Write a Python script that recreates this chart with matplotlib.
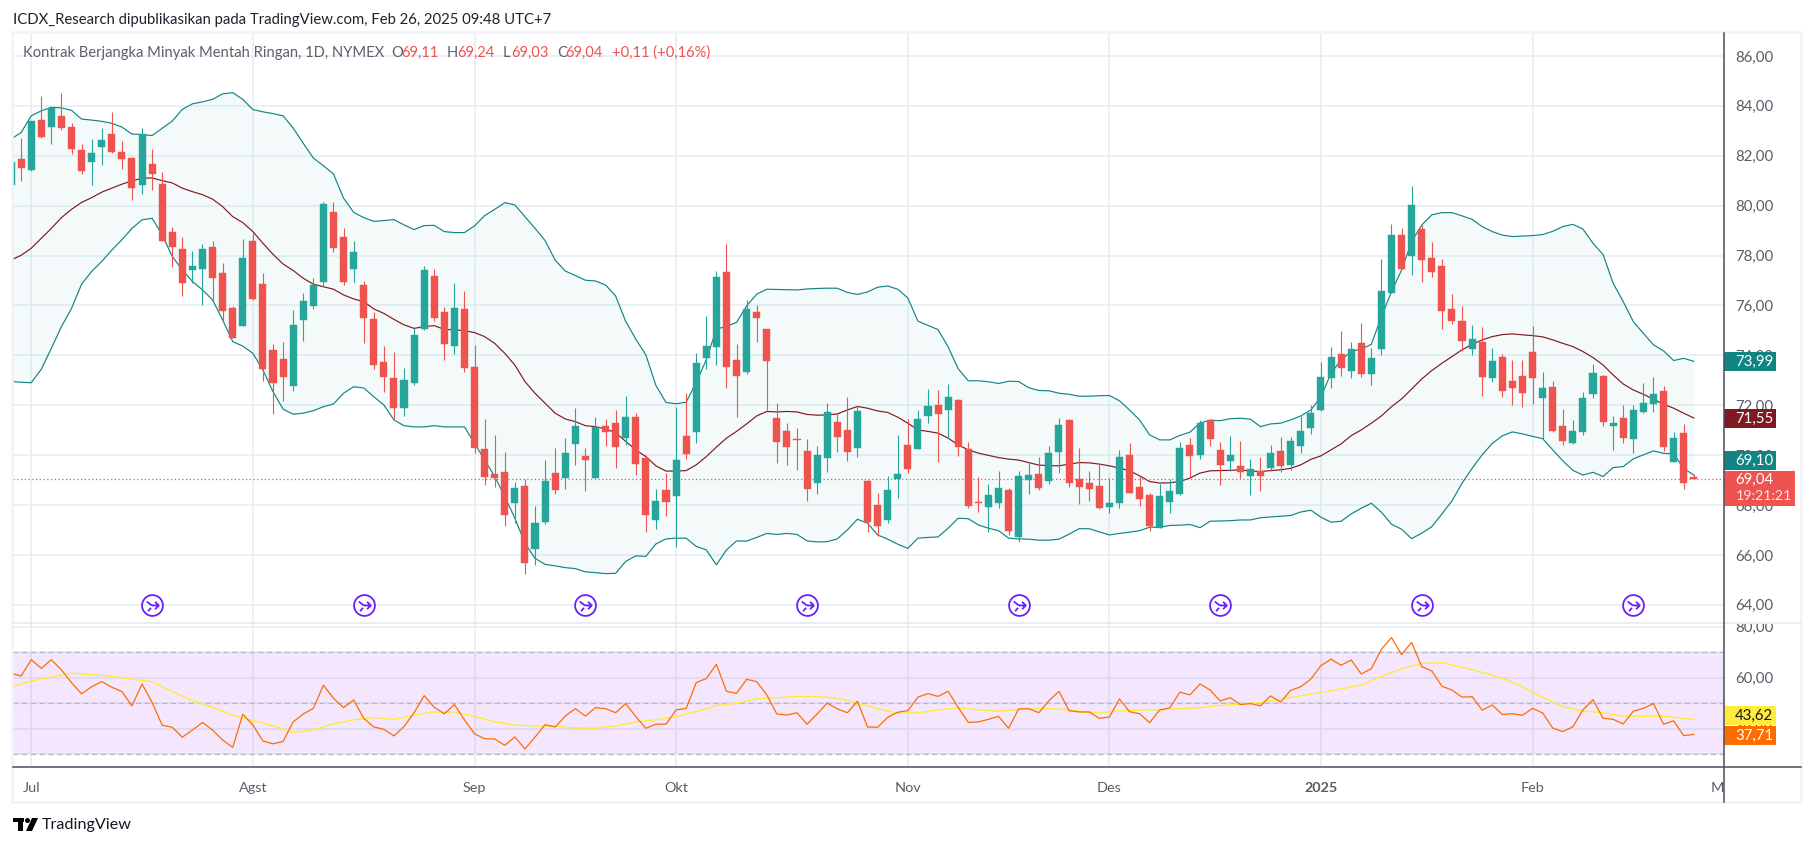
"""Crude oil daily candles with Bollinger bands and RSI, TradingView look."""

import numpy as np
import matplotlib
matplotlib.use("Agg")
import matplotlib.pyplot as plt
from matplotlib.path import Path
from matplotlib.patches import Rectangle, Polygon, Circle
from matplotlib.transforms import Bbox

plt.rcParams['font.family'] = ['Lato', 'DejaVu Sans']

first_index = -2

opens = [80.83, 81.87, 81.43, 83.43, 83.17, 83.60, 83.15, 82.23, 81.75, 82.35, 82.87, 82.15,
         81.91, 80.83, 81.67, 80.86, 78.95, 78.26, 77.42, 77.46, 78.34, 77.30, 75.90, 75.18,
         78.58, 76.86, 74.22, 73.86, 72.77, 75.42, 75.98, 76.94, 79.75, 78.75, 77.46, 76.82,
         75.46, 73.74, 73.09, 71.89, 72.89, 75.06, 77.18, 75.74, 74.38, 75.86, 73.54, 70.25,
         69.25, 69.33, 68.08, 68.77, 66.24, 67.32, 69.29, 69.09, 70.45, 69.97, 69.09, 71.17,
         71.29, 70.69, 71.53, 69.89, 67.41, 68.61, 68.37, 70.77, 70.93, 73.90, 74.34, 77.35,
         73.82, 73.34, 75.74, 75.06, 71.49, 70.97, 70.63, 70.17, 68.89, 69.89, 71.33, 71.01,
         70.29, 68.97, 68.01, 67.41, 69.05, 70.41, 70.25, 71.57, 72.01, 71.81, 72.22, 70.25,
         68.13, 67.93, 68.09, 68.61, 66.72, 69.01, 69.25, 68.97, 70.13, 71.41, 69.05, 68.89,
         68.77, 67.93, 68.09, 70.01, 68.73, 68.41, 67.09, 68.13, 68.45, 70.41, 70.01, 71.41,
         70.21, 69.77, 69.57, 69.17, 69.36, 69.48, 70.17, 69.61, 70.37, 71.09, 71.81, 73.09,
         74.05, 73.37, 74.49, 73.25, 74.25, 76.50, 78.82, 77.98, 79.06, 77.90, 77.58, 75.86,
         75.38, 74.25, 74.54, 73.09, 73.93, 72.97, 73.17, 74.13, 72.29, 72.73, 71.17, 70.49,
         70.93, 72.45, 73.17, 71.17, 71.49, 70.65, 71.73, 72.05, 72.57, 69.73, 70.89, 69.11]
highs = [81.74, 82.70, 83.40, 84.40, 83.93, 84.52, 83.30, 82.47, 82.67, 83.10, 83.76, 82.59,
         81.95, 83.10, 82.27, 81.34, 79.13, 78.75, 78.18, 78.46, 78.59, 77.70, 75.98, 78.66,
         78.90, 77.29, 74.46, 74.54, 75.82, 76.50, 77.09, 80.15, 80.15, 79.11, 78.59, 76.98,
         75.74, 74.38, 74.14, 73.50, 75.10, 77.58, 77.46, 75.94, 76.90, 76.58, 74.42, 71.45,
         70.81, 70.13, 68.93, 69.05, 67.96, 69.80, 70.29, 70.69, 71.89, 70.29, 71.53, 71.45,
         71.81, 72.38, 71.69, 70.01, 68.65, 69.29, 71.93, 72.49, 74.10, 75.58, 77.39, 78.47,
         74.46, 76.22, 76.02, 75.06, 72.09, 71.29, 71.09, 70.65, 70.37, 72.09, 71.65, 72.34,
         71.95, 69.00, 68.49, 69.17, 70.81, 71.45, 71.81, 72.66, 72.62, 72.86, 72.26, 70.53,
         69.13, 68.85, 69.37, 68.69, 69.37, 69.73, 69.93, 70.37, 71.49, 71.45, 70.29, 69.37,
         69.65, 69.09, 70.21, 70.49, 69.17, 68.49, 68.85, 69.05, 70.53, 70.69, 71.41, 71.41,
         70.53, 70.77, 70.57, 69.85, 69.93, 70.41, 70.73, 70.73, 71.57, 72.01, 73.73, 74.33,
         74.98, 74.54, 75.30, 74.29, 77.86, 79.26, 79.10, 80.79, 79.22, 78.54, 77.86, 76.46,
         75.98, 75.22, 75.14, 74.29, 74.05, 73.81, 73.81, 75.17, 73.33, 72.97, 71.85, 71.41,
         72.53, 73.65, 73.21, 71.57, 72.01, 72.01, 72.89, 73.13, 72.77, 70.93, 71.25, 69.24]
lows = [80.83, 80.99, 81.40, 82.73, 82.47, 83.03, 82.07, 81.27, 80.83, 81.63, 82.11, 81.48,
        80.23, 80.47, 80.63, 78.60, 77.54, 76.38, 76.89, 76.00, 76.15, 75.35, 74.70, 75.18,
        76.20, 72.97, 71.65, 72.17, 72.57, 74.58, 75.86, 76.75, 78.14, 76.80, 76.94, 74.50,
        73.45, 72.53, 71.45, 71.57, 72.81, 75.02, 75.38, 73.82, 74.06, 73.33, 70.09, 68.81,
        68.73, 67.16, 67.28, 65.24, 65.60, 67.24, 68.44, 68.65, 69.61, 68.57, 69.09, 70.37,
        69.49, 70.41, 69.21, 66.93, 67.05, 67.57, 66.32, 69.85, 70.49, 73.46, 73.62, 72.70,
        71.53, 73.26, 74.54, 71.81, 69.69, 69.61, 69.41, 68.17, 68.45, 69.33, 70.13, 69.77,
        69.93, 66.93, 66.77, 67.29, 68.29, 69.29, 70.25, 71.29, 69.73, 70.69, 69.97, 67.89,
        67.73, 66.93, 67.89, 66.80, 66.52, 68.45, 68.61, 68.85, 69.29, 68.73, 68.05, 68.17,
        67.85, 67.69, 67.89, 68.49, 67.97, 66.97, 67.09, 67.69, 68.41, 69.13, 69.85, 70.37,
        68.80, 69.36, 69.08, 68.40, 68.56, 69.36, 69.32, 69.40, 70.09, 70.85, 71.77, 72.69,
        73.17, 73.09, 73.13, 72.81, 74.01, 76.50, 77.46, 77.22, 76.94, 77.14, 75.06, 75.26,
        74.17, 74.01, 72.37, 72.93, 72.33, 72.01, 71.93, 72.05, 70.65, 70.93, 70.41, 70.45,
        70.81, 72.29, 71.17, 70.21, 70.49, 70.09, 71.69, 71.73, 70.17, 69.73, 68.64, 69.03]
closes = [81.74, 81.52, 83.39, 82.75, 83.93, 83.11, 82.27, 81.39, 82.11, 82.63, 82.15, 81.87,
          80.71, 82.86, 81.27, 78.60, 78.34, 76.90, 77.58, 78.26, 77.10, 75.78, 74.70, 77.90,
          76.26, 73.45, 72.89, 73.13, 75.22, 76.18, 76.82, 80.07, 78.30, 76.94, 78.14, 75.50,
          73.62, 73.13, 71.89, 73.01, 74.82, 77.42, 75.50, 74.46, 75.90, 73.50, 70.29, 69.13,
          69.09, 67.60, 68.69, 65.68, 67.28, 68.97, 68.60, 70.09, 71.17, 69.81, 71.13, 70.93,
          70.33, 71.53, 69.65, 67.61, 68.17, 68.13, 69.81, 70.05, 73.70, 74.38, 77.15, 73.54,
          73.18, 75.86, 75.50, 73.78, 70.53, 70.33, 70.60, 68.65, 70.01, 71.73, 70.73, 70.13,
          71.77, 67.33, 67.17, 68.61, 69.25, 69.45, 71.45, 71.97, 71.65, 72.34, 70.33, 67.97,
          68.09, 68.41, 68.69, 66.97, 69.17, 69.21, 68.69, 70.09, 71.21, 68.89, 68.73, 68.65,
          67.89, 68.09, 69.93, 68.49, 68.25, 67.17, 68.37, 68.57, 70.29, 69.97, 71.29, 70.65,
          69.61, 70.01, 69.32, 69.45, 69.17, 70.09, 69.57, 70.57, 70.97, 71.69, 73.13, 73.93,
          73.49, 74.25, 73.25, 73.89, 76.58, 78.82, 77.46, 80.03, 77.82, 77.34, 75.78, 75.38,
          74.58, 74.66, 73.13, 73.77, 72.57, 72.69, 72.49, 73.09, 72.69, 70.97, 70.57, 70.97,
          72.29, 73.29, 71.33, 71.29, 70.69, 71.81, 72.09, 72.45, 70.33, 70.69, 68.88, 69.04]

bb_upper = [82.67, 82.93, 83.60, 83.80, 83.94, 83.92, 83.82, 83.47, 83.43, 83.38, 83.30, 83.15,
            82.87, 82.85, 82.81, 83.10, 83.39, 83.86, 84.08, 84.16, 84.26, 84.48, 84.53, 84.26,
            83.85, 83.76, 83.69, 83.60, 83.11, 82.50, 81.91, 81.60, 81.27, 80.30, 79.73, 79.52,
            79.37, 79.40, 79.44, 79.23, 79.04, 79.20, 79.21, 78.96, 78.92, 78.92, 79.19, 79.60,
            79.85, 80.12, 80.03, 79.56, 79.09, 78.60, 77.82, 77.38, 77.20, 77.01, 76.98, 76.82,
            76.38, 75.36, 74.65, 74.02, 72.79, 72.11, 72.06, 72.12, 72.92, 73.82, 75.05, 75.16,
            75.32, 75.98, 76.45, 76.65, 76.64, 76.63, 76.62, 76.66, 76.68, 76.69, 76.69, 76.52,
            76.44, 76.54, 76.73, 76.78, 76.65, 76.30, 75.37, 75.20, 75.03, 74.34, 73.46, 72.98,
            72.98, 72.94, 72.87, 72.96, 72.95, 72.70, 72.59, 72.58, 72.48, 72.44, 72.36, 72.36,
            72.38, 72.39, 72.18, 71.81, 71.41, 70.81, 70.61, 70.61, 70.79, 70.92, 71.29, 71.40,
            71.38, 71.46, 71.48, 71.44, 71.14, 71.25, 71.28, 71.41, 71.57, 71.81, 72.34, 73.28,
            73.81, 74.15, 74.25, 74.44, 75.55, 76.55, 77.42, 78.56, 79.22, 79.63, 79.72, 79.72,
            79.59, 79.45, 79.16, 78.96, 78.82, 78.76, 78.78, 78.80, 78.84, 78.97, 79.16, 79.25,
            79.06, 78.49, 78.04, 76.89, 76.15, 75.35, 74.88, 74.42, 74.18, 73.79, 73.88, 73.76]
bb_basis = [77.82, 78.01, 78.29, 78.69, 79.09, 79.52, 79.85, 80.13, 80.32, 80.54, 80.70, 80.86,
            80.99, 81.10, 81.11, 81.00, 80.91, 80.70, 80.56, 80.44, 80.26, 79.96, 79.56, 79.32,
            78.96, 78.49, 78.05, 77.66, 77.40, 77.09, 76.85, 76.75, 76.65, 76.42, 76.26, 76.15,
            75.86, 75.68, 75.44, 75.22, 75.08, 75.15, 75.19, 75.04, 75.02, 74.99, 74.91, 74.75,
            74.48, 74.08, 73.61, 72.95, 72.48, 72.08, 71.68, 71.45, 71.34, 71.18, 71.14, 71.05,
            70.90, 70.55, 70.21, 69.94, 69.57, 69.36, 69.36, 69.38, 69.61, 69.94, 70.32, 70.68,
            70.95, 71.25, 71.57, 71.75, 71.73, 71.75, 71.73, 71.63, 71.60, 71.61, 71.65, 71.81,
            71.95, 71.88, 71.77, 71.71, 71.52, 71.28, 71.01, 70.95, 70.88, 70.68, 70.41, 70.21,
            70.08, 69.99, 69.90, 69.84, 69.80, 69.70, 69.60, 69.58, 69.57, 69.64, 69.70, 69.69,
            69.64, 69.57, 69.48, 69.37, 69.17, 68.94, 68.88, 68.89, 68.94, 69.08, 69.28, 69.37,
            69.38, 69.39, 69.41, 69.36, 69.34, 69.38, 69.41, 69.47, 69.61, 69.83, 69.97, 70.21,
            70.45, 70.78, 71.01, 71.28, 71.57, 71.94, 72.25, 72.65, 73.05, 73.39, 73.68, 73.95,
            74.22, 74.44, 74.62, 74.75, 74.83, 74.86, 74.82, 74.79, 74.74, 74.62, 74.48, 74.35,
            74.15, 73.91, 73.61, 73.21, 72.85, 72.61, 72.44, 72.24, 72.04, 71.88, 71.68, 71.49]
bb_lower = [72.95, 72.92, 72.90, 73.44, 74.28, 75.15, 75.88, 76.85, 77.36, 77.76, 78.22, 78.63,
            79.09, 79.43, 79.49, 78.83, 77.96, 77.42, 76.96, 76.62, 76.22, 75.42, 74.55, 74.37,
            74.08, 73.41, 72.54, 71.84, 71.64, 71.68, 71.78, 71.94, 72.05, 72.48, 72.74, 72.69,
            72.34, 72.01, 71.41, 71.18, 71.13, 71.13, 71.18, 71.13, 71.13, 71.13, 70.47, 69.81,
            69.14, 68.34, 67.47, 66.47, 65.86, 65.62, 65.56, 65.49, 65.45, 65.32, 65.29, 65.25,
            65.26, 65.74, 65.96, 65.94, 66.44, 66.64, 66.67, 66.67, 66.34, 66.20, 65.60, 66.20,
            66.56, 66.55, 66.70, 66.86, 66.82, 66.86, 66.82, 66.56, 66.52, 66.53, 66.64, 67.00,
            67.43, 67.27, 66.80, 66.63, 66.43, 66.26, 66.67, 66.70, 66.72, 67.07, 67.47, 67.45,
            67.20, 67.07, 66.97, 66.67, 66.64, 66.63, 66.59, 66.59, 66.63, 66.83, 67.05, 67.05,
            66.92, 66.80, 66.86, 66.91, 66.97, 67.11, 67.11, 67.18, 67.19, 67.22, 67.09, 67.35,
            67.36, 67.37, 67.40, 67.40, 67.49, 67.52, 67.55, 67.58, 67.72, 67.79, 67.51, 67.31,
            67.35, 67.64, 67.87, 68.07, 67.71, 67.23, 67.03, 66.65, 66.87, 67.13, 67.64, 68.16,
            68.87, 69.47, 70.01, 70.47, 70.77, 70.93, 70.85, 70.75, 70.66, 70.21, 69.77, 69.39,
            69.20, 69.31, 69.14, 69.50, 69.54, 69.85, 70.01, 70.17, 70.07, 70.05, 69.47, 69.20]

rsi = [61.8, 60.7, 67.1, 63.7, 67.1, 63.1, 58.1, 53.7, 56.5, 58.5, 56.3, 54.6, 49.0, 57.6, 50.3,
       41.4, 40.6, 36.7, 39.5, 42.5, 39.5, 35.6, 32.7, 45.7, 41.5, 35.2, 34.1, 35.0, 42.7, 45.8,
       48.0, 57.1, 52.0, 48.3, 51.3, 44.1, 40.7, 39.8, 37.2, 40.9, 46.3, 53.0, 48.4, 45.9, 49.5,
       43.5, 38.0, 36.1, 36.0, 33.5, 36.8, 32.1, 36.7, 41.6, 40.7, 45.0, 47.9, 45.0, 48.3, 47.9,
       46.3, 49.9, 44.8, 40.2, 41.8, 41.8, 47.4, 48.0, 58.1, 59.7, 65.3, 54.7, 53.9, 59.4, 58.5,
       53.3, 45.8, 45.4, 46.3, 41.8, 45.8, 50.1, 47.8, 46.3, 50.8, 40.7, 40.6, 44.5, 46.5, 47.1,
       52.4, 53.8, 52.7, 54.7, 48.4, 42.5, 42.7, 43.7, 44.9, 40.2, 47.8, 47.9, 46.3, 51.0, 54.7,
       47.1, 46.6, 46.6, 44.1, 44.6, 51.7, 46.7, 45.9, 42.4, 47.4, 48.2, 54.4, 53.3, 57.6, 55.2,
       50.9, 52.2, 49.5, 49.9, 49.0, 52.9, 50.5, 55.1, 56.5, 59.5, 64.8, 67.3, 64.9, 67.0, 61.5,
       63.6, 71.2, 75.8, 69.1, 73.9, 64.4, 62.7, 56.7, 55.2, 52.4, 52.6, 47.3, 49.3, 45.6, 45.9,
       45.3, 48.0, 46.2, 40.3, 38.9, 40.8, 47.4, 51.4, 44.1, 43.7, 41.9, 46.9, 48.0, 49.9, 41.8,
       43.1, 37.3, 37.8]

# RSI moving average, read every second candle plus the last one
rsi_ma_index = list(range(-2, 165, 2)) + [165]
rsi_ma = [56.3, 58.8, 60.3, 61.8, 61.2, 60.6, 59.4, 58.5, 54.6, 51.0, 48.4, 45.2, 43.3, 41.1, 38.6,
          39.5, 41.9, 43.5, 44.4, 43.7, 45.3, 46.6, 46.6, 44.8, 42.8, 41.5, 41.1, 41.1, 40.3, 40.2,
          41.1, 42.7, 43.5, 44.8, 46.7, 49.1, 50.1, 51.8, 52.2, 52.7, 52.6, 52.0, 50.1, 47.9, 46.1,
          46.3, 47.4, 48.2, 47.4, 46.9, 47.6, 47.8, 47.8, 47.0, 46.3, 47.0, 47.4, 47.4, 47.9, 48.3,
          49.1, 49.7, 50.3, 51.6, 52.9, 54.3, 55.6, 57.2, 60.5, 63.5, 65.6, 65.9, 64.2, 62.2, 59.8,
          56.5, 52.4, 48.7, 46.9, 46.3, 45.0, 44.9, 45.0, 44.0, 43.7]

month_index = [0, 22, 44, 64, 87, 107, 128, 149, 168]
month_labels = ['Jul', 'Agst', 'Sep', 'Okt', 'Nov', 'Des', '2025', 'Feb', 'Mar']
price_ticks = [64, 66, 68, 70, 72, 74, 76, 78, 80, 82, 84, 86]
roll_index = [12, 33, 55, 77, 98, 118, 138, 159]

GREEN = '#26a69a'
RED = '#ef5350'
TEAL = '#138484'
MAROON = '#801922'
GRID = '#e4eef4'
AXIS = '#4a4e5a'
TEXT = '#5a5d68'
FONT = 10.6


def px_rect(left, top, right, bottom):
    return [left / 1814, 1 - bottom / 846, (right - left) / 1814, (bottom - top) / 846]


def roll_marker():
    """Circle with the merge arrow inside, used as a marker path."""
    circle = Path.unit_circle()
    arrow = Path([(-0.05, 0.0), (0.6, 0.0), (0.25, 0.36), (0.6, 0.0), (0.25, -0.36),
                  (-0.55, 0.38), (-0.05, 0.0), (-0.42, -0.55), (-0.14, -0.22)],
                 [Path.MOVETO, Path.LINETO, Path.MOVETO, Path.LINETO, Path.LINETO,
                  Path.MOVETO, Path.LINETO, Path.MOVETO, Path.LINETO])
    return Path.make_compound_path(circle, arrow)


fig = plt.figure(figsize=(18.14, 8.46), dpi=100, facecolor='white')
ax = fig.add_axes(px_rect(13, 33, 1724, 623))
ax_rsi = fig.add_axes(px_rect(13, 623, 1724, 767), sharex=ax)

x = np.arange(first_index, first_index + len(closes))
opens = np.array(opens)
closes = np.array(closes)
colors = np.where(closes >= opens, GREEN, RED)

ax.set_xlim(-1.806, 168)
ax.set_ylim(63.27, 86.92)

# price pane
ax.set_axisbelow(True)
ax.grid(True, color=GRID, linewidth=1.1)
ax.fill_between(x, bb_lower, bb_upper, color=GREEN, alpha=0.05, linewidth=0, zorder=1)
ax.plot(x, bb_upper, color=TEAL, linewidth=0.85, zorder=2)
ax.plot(x, bb_lower, color=TEAL, linewidth=0.85, zorder=2)
ax.plot(x, bb_basis, color=MAROON, linewidth=0.85, zorder=2)
ax.vlines(x, lows, highs, colors=colors, linewidth=0.8, zorder=3)
ax.bar(x, closes - opens, bottom=opens, width=0.7, color=colors, edgecolor=colors,
       linewidth=0.3, zorder=4)
ax.axhline(closes[-1], color=RED, linestyle=(0, (1, 2)), linewidth=0.9, zorder=3)
ax.plot(roll_index, [64] * len(roll_index), linestyle='none', marker=roll_marker(),
        markersize=15, markerfacecolor='none', markeredgecolor='#6a1fff',
        markeredgewidth=1.3, zorder=5)

# rsi pane
ax_rsi.set_ylim(25, 81.5)
ax_rsi.set_axisbelow(True)
ax_rsi.grid(True, color=GRID, linewidth=1.1)
ax_rsi.axhspan(30, 70, color='#a020f0', alpha=0.11, linewidth=0, zorder=1)
ax_rsi.set_yticks([30, 40, 50, 60, 70, 80], labels=['', '40,00', '', '60,00', '', '80,00'])
for level in [30, 50, 70]:
    ax_rsi.axhline(level, color='#b9b5bf', linestyle=(0, (4, 3)), linewidth=0.9, zorder=2)
ax_rsi.plot(x, rsi, color='#ff6d00', linewidth=0.9, zorder=4)
ax_rsi.plot(rsi_ma_index, rsi_ma, color='#ffeb3b', linewidth=1.0, zorder=3)

ax.set_yticks(price_ticks, labels=[f'{p},00' for p in price_ticks])
ax_rsi.set_xticks(month_index, labels=month_labels)

for a in (ax, ax_rsi):
    for side in a.spines:
        a.spines[side].set_visible(False)
    a.yaxis.tick_right()
    a.tick_params(axis='y', length=0, pad=8, labelsize=10.8, labelcolor=TEXT)
ax.tick_params(axis='x', length=0, labelbottom=False)
ax_rsi.tick_params(axis='x', length=0, pad=11, labelsize=10.4, labelcolor=TEXT)

# 2025 is bold, Mar is cut off by the price axis
ax_rsi.get_xticklabels()[6].set_fontweight('bold')
time_clip = Bbox([[13, 0], [1724, 846]])
for label in ax_rsi.get_xticklabels():
    label.set_clip_box(time_clip)
    label.set_clip_on(True)
rsi_clip = Bbox([[1724, 0], [1814, 846 - 624]])
for label in ax_rsi.get_yticklabels():
    label.set_clip_box(rsi_clip)
    label.set_clip_on(True)

# page layer in pixel coordinates: frame, axis lines, boxes and texts
page = fig.add_axes([0, 0, 1, 1], facecolor='none', zorder=10)
page.set_xlim(0, 1814)
page.set_ylim(846, 0)
page.axis('off')

page.add_patch(Rectangle((12, 32), 1789, 770, fill=False, edgecolor='#f1f3f6', linewidth=1.8))
page.plot([13, 1801], [623, 623], color='#e4e7ee', linewidth=1.1)
page.plot([13, 1801], [767, 767], color=AXIS, linewidth=1.1)
page.plot([1724, 1724], [33, 802], color=AXIS, linewidth=1.1)

page.text(13, 20, 'ICDX_Research dipublikasikan pada TradingView.com, Feb 26, 2025 09:48 UTC+7',
          fontsize=10.75, color='#1e222d', va='center')
page.text(23, 53, 'Kontrak Berjangka Minyak Mentah Ringan, 1D, NYMEX', fontsize=FONT,
          color='#5d606b', va='center')
for left, name, left_val, val in [(391, 'O', 401, '69,11'), (447, 'H', 457, '69,24'),
                                  (503, 'L', 511, '69,03'), (557, 'C', 565, '69,04')]:
    page.text(left, 53, name, fontsize=FONT, color='#5d606b', va='center')
    page.text(left_val, 53, val, fontsize=FONT, color=RED, va='center')
page.text(612, 53, '+0,11 (+0,16%)', fontsize=FONT, color=RED, va='center')

for top, bottom, color, text_color, value in [(352, 371, TEAL, 'white', '73,99'),
                                              (409, 428, MAROON, 'white', '71,55'),
                                              (451, 470, TEAL, 'white', '69,10'),
                                              (706, 725, '#ffeb3b', '#131722', '43,62'),
                                              (726, 745, '#ff6d00', 'white', '37,71')]:
    page.add_patch(Rectangle((1724, top), 52, bottom - top, facecolor=color, edgecolor='none'))
    page.text(1735, (top + bottom) / 2, value, color=text_color, fontsize=10.8, va='center')

page.add_patch(Rectangle((1724, 471), 71, 35, facecolor=RED, edgecolor='none'))
page.text(1735, 480, '69,04', color='white', fontsize=10.8, va='center')
page.text(1736, 496, '19:21:21', color='#fde2e2', fontsize=10.2, va='center')

# TradingView logo and name
page.add_patch(Rectangle((13, 818), 11, 4.5, facecolor='black', edgecolor='none'))
page.add_patch(Rectangle((18, 818), 5, 13, facecolor='black', edgecolor='none'))
page.add_patch(Circle((27.5, 820.5), 2.5, facecolor='black', edgecolor='none'))
page.add_patch(Polygon([(32, 818), (38, 818), (32, 831), (26, 831)], facecolor='black',
                       edgecolor='none'))
page.text(42, 825, 'TradingView', fontsize=11.6, color='#131722', va='center')

fig.savefig('out.png', dpi=100)
